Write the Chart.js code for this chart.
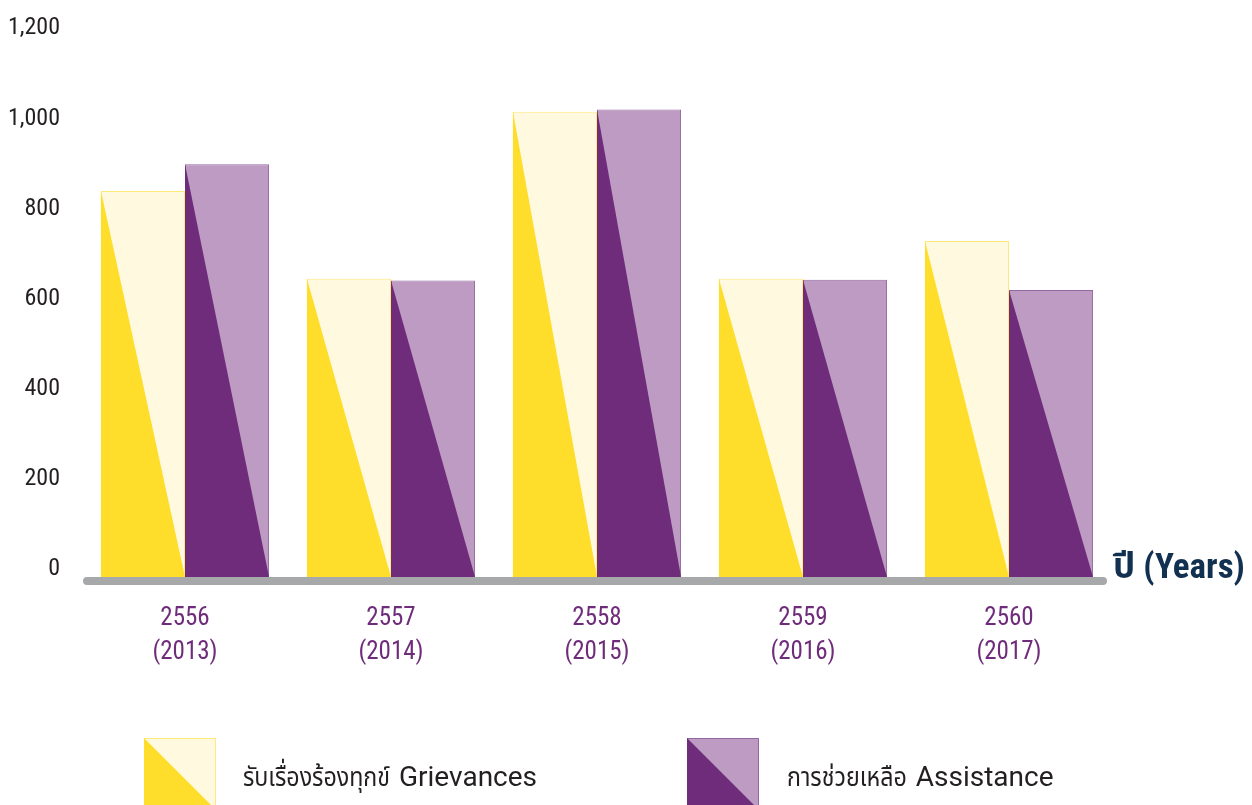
<!DOCTYPE html>
<html>
<head>
<meta charset="utf-8">
<script src="https://cdn.jsdelivr.net/npm/chart.js@4/dist/chart.umd.min.js"></script>
<style>
  html, body { margin: 0; padding: 0; background: #ffffff; }
  #wrap { position: relative; width: 1252px; height: 805px; }
</style>
</head>
<body>
<div id="wrap"><canvas id="c" width="1252" height="805"></canvas></div>
<script>
// ---- data ----
const yearsBE = ['2556', '2557', '2558', '2559', '2560'];
const yearsCE = ['(2013)', '(2014)', '(2015)', '(2016)', '(2017)'];
const grievances = [857, 662, 1033, 662, 746];
const assistance = [916, 658, 1038, 660, 637];
const seriesThai = ['รับเรื่องร้องทุกข์', 'การช่วยเหลือ'];
const seriesEng = ['Grievances', 'Assistance'];
const yTicks = [0, 200, 400, 600, 800, 1000, 1200];
const axisTitle = 'ปี (Years)';

const FONT = '"Roboto Condensed", "Noto Sans Thai", sans-serif';
const FONT_WIDE = 'Roboto, "Noto Sans Thai", sans-serif';

const labels = yearsBE.map((y, i) => [y, yearsCE[i]]);

const splitBars = {
  id: 'splitBars',
  afterDatasetsDraw(chart) {
    const ctx = chart.ctx;
    ctx.save();
    chart.data.datasets.forEach((ds, i) => {
      const meta = chart.getDatasetMeta(i);
      meta.data.forEach(bar => {
        const p = bar.getProps(['x', 'y', 'base', 'width'], true);
        const l = p.x - p.width / 2, r = p.x + p.width / 2;
        ctx.beginPath();
        ctx.moveTo(l, p.y);
        ctx.lineTo(l, p.base);
        ctx.lineTo(r, p.base);
        ctx.closePath();
        ctx.fillStyle = ds.darkColor;
        ctx.fill();
      });
    });
    // axis baseline
    const ca = chart.chartArea;
    ctx.beginPath();
    ctx.lineWidth = 8;
    ctx.lineCap = 'round';
    ctx.strokeStyle = '#A7A8AA';
    ctx.moveTo(ca.left + 5, ca.bottom + 4);
    ctx.lineTo(ca.right - 9, ca.bottom + 4);
    ctx.stroke();
    // axis title
    ctx.font = 'bold 35px ' + FONT;
    ctx.fillStyle = '#12304F';
    ctx.textAlign = 'left';
    ctx.textBaseline = 'middle';
    ctx.fillText(axisTitle, ca.right + 1, ca.bottom - 8);
    ctx.restore();
  },
  afterDraw(chart) {
    const ctx = chart.ctx;
    ctx.save();
    const items = [{ x: 144, tx: 243 }, { x: 687, tx: 787 }];
    const top = 738, size = 72, ty = 779;
    chart.data.datasets.forEach((ds, i) => {
      const it = items[i];
      ctx.fillStyle = ds.backgroundColor;
      ctx.fillRect(it.x, top, size, size);
      ctx.strokeStyle = ds.borderColor;
      ctx.lineWidth = 1;
      ctx.strokeRect(it.x + 0.5, top + 0.5, size - 1, size - 1);
      ctx.beginPath();
      ctx.moveTo(it.x, top);
      ctx.lineTo(it.x, top + size);
      ctx.lineTo(it.x + size, top + size);
      ctx.closePath();
      ctx.fillStyle = ds.darkColor;
      ctx.fill();
      // label: Thai part (compressed) + English part
      ctx.fillStyle = '#231F20';
      ctx.textAlign = 'left';
      ctx.textBaseline = 'middle';
      ctx.font = '27px ' + FONT_WIDE;
      const thai = seriesThai[i], eng = seriesEng[i];
      const sx = 0.86;
      const thaiW = ctx.measureText(thai).width * sx;
      ctx.save();
      ctx.translate(it.tx, ty);
      ctx.scale(sx, 1);
      ctx.fillText(thai, 0, 0);
      ctx.restore();
      ctx.font = '28px ' + FONT_WIDE;
      ctx.fillText(eng, it.tx + thaiW + 9, ty);
    });
    ctx.restore();
  }
};

new Chart(document.getElementById('c'), {
  type: 'bar',
  data: {
    labels: labels,
    datasets: [
      {
        label: seriesThai[0] + ' ' + seriesEng[0],
        data: grievances,
        backgroundColor: '#FFFADF',
        borderColor: '#FFE97A',
        darkColor: '#FEDD2B',
        borderWidth: 1,
        borderSkipped: 'bottom'
      },
      {
        label: seriesThai[1] + ' ' + seriesEng[1],
        data: assistance,
        backgroundColor: '#BD9BC2',
        borderColor: '#9467A0',
        darkColor: '#6F2C7B',
        borderWidth: 1,
        borderSkipped: 'bottom'
      }
    ]
  },
  options: {
    responsive: false,
    animation: false,
    locale: 'en-US',
    layout: { padding: { left: 0, right: 140, top: 34, bottom: 0 } },
    plugins: {
      legend: { display: false },
      tooltip: { enabled: false }
    },
    datasets: {
      bar: { categoryPercentage: 0.816, barPercentage: 1.0 }
    },
    scales: {
      x: {
        grid: { display: false, drawTicks: false },
        border: { display: false },
        ticks: {
          color: '#6F2C7B',
          font: { family: FONT, size: 25, lineHeight: 1.36 },
          padding: 25,
          maxRotation: 0,
          autoSkip: false
        },
        afterFit(scale) { scale.height = 228; }
      },
      y: {
        min: 0,
        max: 1200,
        afterBuildTicks(scale) { scale.ticks = yTicks.map(v => ({ value: v })); },
        grid: { display: false, drawTicks: false },
        border: { display: false },
        ticks: {
          color: '#231F20',
          font: { family: FONT, size: 24 },
          padding: 22,
          labelOffset: -8,
          callback: v => v.toLocaleString('en-US')
        },
        afterFit(scale) { scale.width = 82; }
      }
    }
  },
  plugins: [splitBars]
});
</script>
</body>
</html>
